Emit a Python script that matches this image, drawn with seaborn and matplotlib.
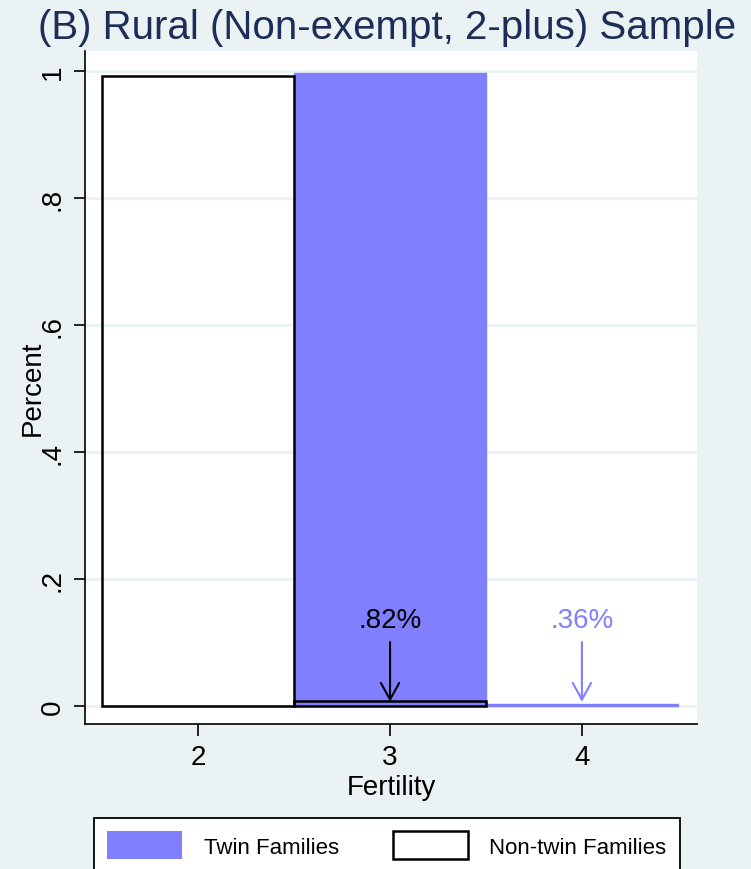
import matplotlib
matplotlib.use("Agg")
import matplotlib.pyplot as plt
from matplotlib.patches import Patch
import seaborn as sns
import pandas as pd

# ---- data ----
twin_fertility = [3, 4]
twin_share = [0.9964, 0.0036]
nontwin_fertility = [2, 3]
nontwin_share = [0.9918, 0.0082]
x_ticks = [2, 3, 4]
y_ticks = [0, 0.2, 0.4, 0.6, 0.8, 1.0]
y_tick_labels = ["0", ".2", ".4", ".6", ".8", "1"]
annot_x = [3, 4]
annot_text = [".82%", ".36%"]
title = "(B) Rural (Non-exempt, 2-plus) Sample"
legend_labels = ["Twin Families", "Non-twin Families"]

BG = "#EAF2F3"
TWIN = "#8080FF"
TITLE_C = "#1C2D57"

sns.set_theme(style="white")
plt.rcParams["font.family"] = ["Liberation Sans", "DejaVu Sans"]
plt.rcParams["text.color"] = "black"
plt.rcParams["axes.labelcolor"] = "black"
plt.rcParams["xtick.color"] = "black"
plt.rcParams["ytick.color"] = "black"

fig = plt.figure(figsize=(7.51, 8.70), dpi=100, facecolor=BG)
W, H = 751, 870
ax = fig.add_axes([85 / W, (H - 725) / H, (697 - 85) / W, (725 - 52) / H])
ax.set_facecolor("white")

twin_df = pd.DataFrame({"fertility": twin_fertility, "share": twin_share})
nontwin_df = pd.DataFrame({"fertility": nontwin_fertility, "share": nontwin_share})

sns.barplot(data=twin_df, x="fertility", y="share", native_scale=True, width=1,
            color=TWIN, edgecolor=TWIN, linewidth=1.0, saturation=1,
            errorbar=None, ax=ax, zorder=2)
sns.barplot(data=nontwin_df, x="fertility", y="share", native_scale=True, width=1,
            color="black", fill=False, linewidth=1.8, saturation=1,
            errorbar=None, ax=ax, zorder=3)

# gridlines
for yv in y_ticks:
    ax.axhline(yv, color=BG, lw=2, zorder=1)

# annotations
ann_colors = ["black", TWIN]
for xv, txt, c in zip(annot_x, annot_text, ann_colors):
    ax.text(xv, 0.124, txt, ha="center", va="baseline", fontsize=20, color=c, zorder=5)
    ax.annotate("", xy=(xv, 0.007), xytext=(xv, 0.101),
                arrowprops=dict(arrowstyle="->,head_length=0.6,head_width=0.33",
                                color=c, lw=1.5, mutation_scale=20,
                                shrinkA=0, shrinkB=0),
                zorder=5)

ax.set_xlim(1.41, 4.6)
ax.set_ylim(-0.028, 1.0315)
ax.set_xticks(x_ticks)
ax.set_xticklabels([str(v) for v in x_ticks], fontsize=20)
ax.set_yticks(y_ticks)
ax.set_yticklabels(y_tick_labels, fontsize=20, rotation=90, va="center")
ax.tick_params(axis="x", length=8.6, width=1.2, pad=6, color="black", bottom=True)
ax.tick_params(axis="y", length=8, width=1.2, pad=6, color="black", left=True)
ax.grid(False)

for s in ["top", "right"]:
    ax.spines[s].set_visible(False)
for s in ["left", "bottom"]:
    ax.spines[s].set_color("black")
    ax.spines[s].set_linewidth(1.2)

ax.set_xlabel("Fertility", fontsize=20, labelpad=3)
ax.set_ylabel("Percent", fontsize=20)
ax.yaxis.set_label_coords(-0.064, 0.5)

fig.text(38 / W, 1 - 28 / H, title, fontsize=29, color=TITLE_C, ha="left", va="center")

handles = [Patch(facecolor=TWIN, edgecolor=TWIN, linewidth=0),
           Patch(facecolor="white", edgecolor="black", linewidth=1.8)]
leg = fig.legend(handles, legend_labels, loc="upper left",
                 bbox_to_anchor=(94 / W, 1 - 819 / H), ncol=2, fontsize=16,
                 frameon=True, fancybox=False, framealpha=1, edgecolor="black",
                 handlelength=3.38, handleheight=1.55, handletextpad=0.95,
                 columnspacing=2.45, borderpad=0.6, borderaxespad=0)
leg.get_frame().set_linewidth(1.3)

fig.savefig("out.png", dpi=100, facecolor=BG)
